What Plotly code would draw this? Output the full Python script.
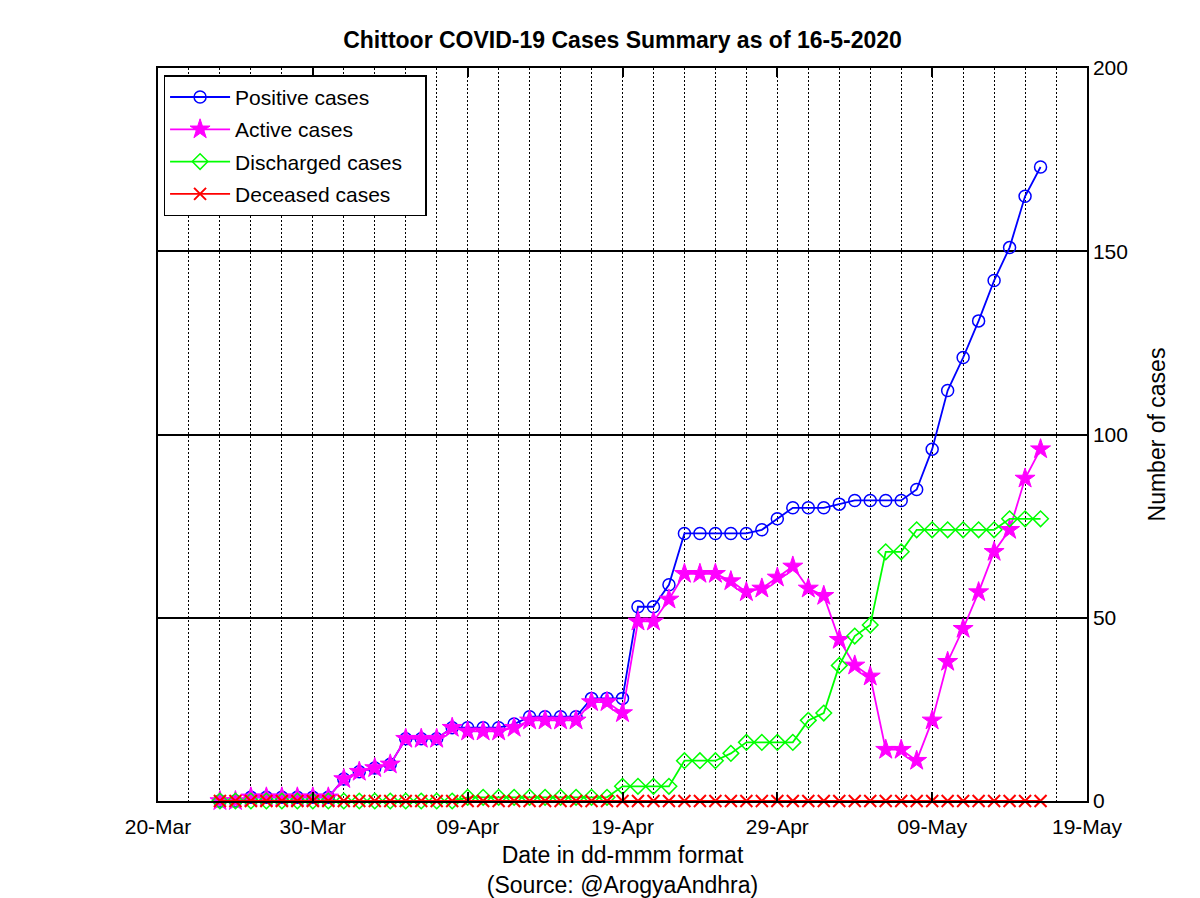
import pandas as pd
import plotly.graph_objects as go

# ---- data ----
dates = pd.date_range("2020-03-24", "2020-05-16", freq="D")

positive = [0, 0, 1, 1, 1, 1, 1, 1, 6, 8, 9, 10, 17, 17, 17, 20, 20, 20, 20, 21,
            23, 23, 23, 23, 28, 28, 28, 53, 53, 59, 73, 73, 73, 73, 73, 74, 77, 80,
            80, 80, 81, 82, 82, 82, 82, 85, 96, 112, 121, 131, 142, 151, 165, 173]
active = [0, 0, 1, 1, 1, 1, 1, 1, 6, 8, 9, 10, 17, 17, 17, 20, 19, 19, 19, 20,
          22, 22, 22, 22, 27, 27, 24, 49, 49, 55, 62, 62, 62, 60, 57, 58, 61, 64,
          58, 56, 44, 37, 34, 14, 14, 11, 22, 38, 47, 57, 68, 74, 88, 96]
discharged = [0, 0, 0, 0, 0, 0, 0, 0, 0, 0, 0, 0, 0, 0, 0, 0, 1, 1, 1, 1,
              1, 1, 1, 1, 1, 1, 4, 4, 4, 4, 11, 11, 11, 13, 16, 16, 16, 16,
              22, 24, 37, 45, 48, 68, 68, 74, 74, 74, 74, 74, 74, 77, 77, 77]
deceased = [0] * 54

x_range = ["2020-03-20", "2020-05-19"]
tick_dates = ["2020-03-20", "2020-03-30", "2020-04-09", "2020-04-19",
              "2020-04-29", "2020-05-09", "2020-05-19"]
tick_labels = ["20-Mar", "30-Mar", "09-Apr", "19-Apr", "29-Apr", "09-May", "19-May"]
y_ticks = [0, 50, 100, 150, 200]

FONT = "Liberation Sans, Arial, Helvetica, sans-serif"
GRID_STEP_MS = 2 * 86400000  # dotted vertical grid every 2 days

fig = go.Figure()

# empty trace that activates the overlay axis used for the dotted vertical grid
fig.add_trace(go.Scatter(x=x_range, y=[None, None], xaxis="x2", yaxis="y",
                         mode="lines", showlegend=False, hoverinfo="skip"))

series = [
    ("Positive cases", positive, "#0000FF", "circle-open", 12, 1.5),
    ("Active cases", active, "#FF00FF", "star", 15, 1),
    ("Discharged cases\u00a0\u00a0\u00a0", discharged, "#00FF00", "diamond-open", 12, 1.5),
    ("Deceased cases", deceased, "#FF0000", "x-thin-open", 12, 2),
]
for name, vals, col, sym, sz, mlw in series:
    fig.add_trace(go.Scatter(
        x=dates, y=vals, name=name, mode="lines+markers",
        line=dict(color=col, width=1.8),
        marker=dict(symbol=sym, size=sz, color=col, line=dict(color=col, width=mlw)),
        cliponaxis=False, legendgroup=name,
    ))

fig.update_layout(
    width=1200, height=898,
    paper_bgcolor="white", plot_bgcolor="white",
    margin=dict(l=158, r=113, t=68, b=97),
    font=dict(family=FONT, size=21, color="black"),
    title=dict(text="<b>Chittoor COVID-19 Cases Summary as of 16-5-2020</b>",
               x=0.5, xref="paper", y=1 - 40 / 898, yref="container",
               xanchor="center", yanchor="middle",
               font=dict(family=FONT, size=23, color="black")),
    showlegend=True,
    legend=dict(x=0.006, y=0.99, xanchor="left", yanchor="top",
                bgcolor="white", bordercolor="black", borderwidth=1.5,
                font=dict(family=FONT, size=21, color="black"),
                itemwidth=60, tracegroupgap=2, traceorder="grouped"),
    xaxis=dict(
        range=x_range, type="date", automargin=False,
        tickmode="array", tickvals=tick_dates, ticktext=tick_labels,
        ticks="inside", ticklen=9, tickcolor="black", tickwidth=1.5,
        ticklabelstandoff=6,
        showline=True, linecolor="black", linewidth=1.5, mirror="ticks",
        showgrid=True, gridcolor="black", gridwidth=1.3, griddash="2px,2px",
        zeroline=False,
        tickfont=dict(family=FONT, size=21),
        title=dict(text="Date in dd-mmm format<br>(Source: @ArogyaAndhra)",
                   font=dict(family=FONT, size=23), standoff=12),
    ),
    xaxis2=dict(
        type="date", range=x_range, overlaying="x", anchor="y", side="top",
        automargin=False,
        tickmode="linear", tick0=x_range[0], dtick=GRID_STEP_MS,
        showticklabels=False, ticks="", showline=False, zeroline=False,
        showgrid=True, gridcolor="black", gridwidth=1.3, griddash="2px,2px",
    ),
    yaxis=dict(
        range=[0, 200], side="right", automargin=False,
        tickmode="array", tickvals=y_ticks,
        ticks="inside", ticklen=9, tickcolor="black", tickwidth=1.5,
        showline=True, linecolor="black", linewidth=1.5, mirror="ticks",
        showgrid=True, gridcolor="black", gridwidth=1.5,
        zeroline=False,
        tickfont=dict(family=FONT, size=21),
        title=dict(text="Number of cases", font=dict(family=FONT, size=23), standoff=22),
    ),
)

fig.write_html("out.html", config={"displayModeBar": False},
               post_script="document.body.style.margin='0px';")
